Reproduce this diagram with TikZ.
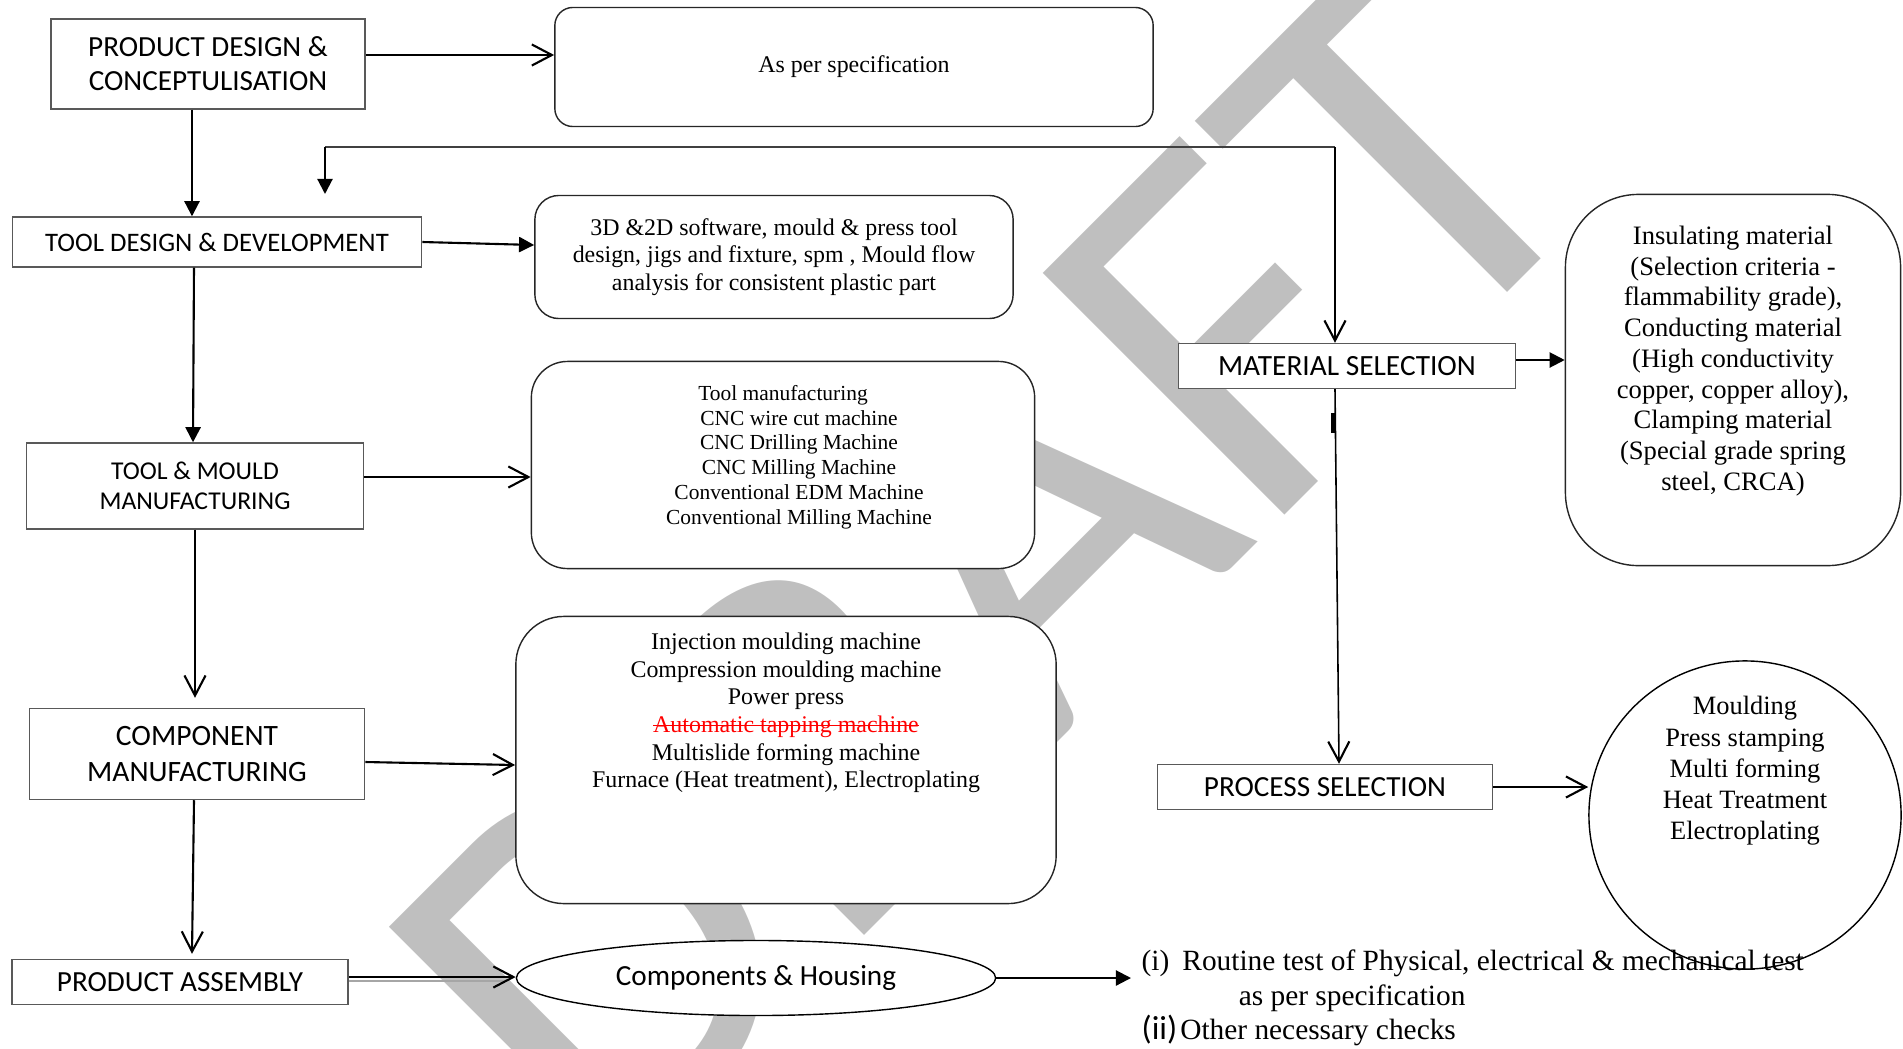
\documentclass[tikz,border=0pt]{standalone}
\usepackage{fontspec}
\setmainfont{Liberation Serif}
\setsansfont{Carlito}
\usetikzlibrary{arrows.meta,shapes.geometric}

\newsavebox\redstrikebox
\newcommand\redstrike[1]{\sbox\redstrikebox{#1}\rlap{\usebox\redstrikebox}\rule[0.27em]{\wd\redstrikebox}{0.06em}}

\tikzset{
  stage/.style={draw=black!65, line width=0.4pt, fill=white, align=center, inner sep=0pt,
    font=\sffamily\fontsize{8.3}{9.7}\selectfont},
  note/.style={draw=black!85, line width=0.4pt, fill=white, align=center, inner sep=0pt},
  notetext/.style={align=center, inner sep=0pt},
  openarrow/.style={line width=0.6pt, -{Straight Barb[length=5.7pt,width=6pt,line width=0.6pt]}},
  fillarrow/.style={line width=0.6pt, -{Triangle[length=4.3pt,width=4.3pt]}},
}

\begin{document}
\begin{tikzpicture}[x=0.01cm, y=-0.01cm]
\useasboundingbox (0,0) rectangle (1903,1048);

% watermark
\begin{scope}
\clip (0,0) rectangle (1903,1048);
\node[anchor=base west, rotate=45, inner sep=0pt, text=gray!50,
  font=\sffamily\fontsize{151.5}{153}\selectfont] (draft) at (605,1195) {DRAFT};
\end{scope}

% left column
\node[stage, minimum width=3.14cm, minimum height=0.90cm] (pdc) at (208,64) {PRODUCT DESIGN \&\\CONCEPTULISATION};
\node[stage, font=\sffamily\fontsize{7.6}{9}\selectfont, minimum width=4.09cm, minimum height=0.50cm] (tdd) at (217,242) {TOOL DESIGN \& DEVELOPMENT};
\node[stage, font=\sffamily\fontsize{7.3}{8.6}\selectfont, minimum width=3.37cm, minimum height=0.86cm] (tmm) at (195,486) {TOOL \& MOULD\\MANUFACTURING};
\node[stage, font=\sffamily\fontsize{8.4}{10}\selectfont, minimum width=3.35cm, minimum height=0.91cm] (cm) at (197,754) {COMPONENT\\MANUFACTURING};
\node[stage, minimum width=3.36cm, minimum height=0.45cm] (pa) at (180,982) {PRODUCT ASSEMBLY};

% middle column
\node[note, rounded corners=0.18cm, minimum width=5.98cm, minimum height=1.19cm,
  font=\fontsize{6.8}{7.8}\selectfont] (spec) at (854,67) {As per specification};
\node[note, rounded corners=0.24cm, minimum width=4.78cm, minimum height=1.23cm,
  font=\fontsize{6.8}{7.8}\selectfont] (soft) at (774,257) {3D \&2D software, mould \& press tool\\design, jigs and fixture, spm , Mould flow\\analysis for consistent plastic part};
\node[note, rounded corners=0.36cm, minimum width=5.03cm, minimum height=2.07cm] (tool) at (783,465) {};
\node[notetext, font=\fontsize{6.1}{7.05}\selectfont] (tooltext) at (799,457) {Tool manufacturing\hspace*{0.32cm}\\CNC wire cut machine\\CNC Drilling Machine\\CNC Milling Machine\\Conventional EDM Machine\\Conventional Milling Machine};
\node[note, rounded corners=0.48cm, minimum width=5.40cm, minimum height=2.87cm] (inj) at (786,760) {};
\node[notetext, font=\fontsize{6.8}{7.85}\selectfont] (injtext) at (786,713) {Injection moulding machine\\Compression moulding machine\\Power press\\\textcolor{red}{\redstrike{Automatic tapping machine}}\\Multislide forming machine\\Furnace (Heat treatment), Electroplating};
\node[ellipse, draw=black, line width=0.4pt, fill=white, minimum width=4.79cm, minimum height=0.75cm, inner sep=0pt,
  font=\sffamily\fontsize{8.3}{9.7}\selectfont] (comp) at (756,978) {Components \& Housing};

% right side
\node[stage, font=\sffamily\fontsize{8.35}{9.7}\selectfont, minimum width=3.37cm, minimum height=0.45cm] (ms) at (1347,366) {MATERIAL SELECTION};
\node[note, rounded corners=0.73cm, minimum width=3.35cm, minimum height=3.71cm] (ins) at (1733,380) {};
\node[notetext, font=\fontsize{7.56}{8.74}\selectfont] (instext) at (1733,361) {Insulating material\\(Selection criteria -\\flammability grade),\\Conducting material\\(High conductivity\\copper, copper alloy),\\Clamping material\\(Special grade spring\\steel, CRCA)};
\node[stage, minimum width=3.35cm, minimum height=0.45cm] (ps) at (1325,787) {PROCESS SELECTION};
\node[ellipse, draw=black, line width=0.4pt, fill=white, minimum width=3.12cm, minimum height=3.08cm, inner sep=0pt] (proc) at (1745,815) {};
\node[notetext, font=\fontsize{7.52}{8.9}\selectfont] (proctext) at (1745,771) {Moulding\\Press stamping\\Multi forming\\Heat Treatment\\Electroplating};
\node[anchor=west, align=left, inner sep=0pt, font=\fontsize{8.35}{9.8}\selectfont] (tests) at (1141,998) {(i)\hspace{0.13cm}Routine test of Physical, electrical \& mechanical test\\\hspace*{0.97cm}as per specification\\{\sffamily\fontsize{9.5}{9.8}\selectfont(ii)}\hspace{0.03cm}Other necessary checks};

% feedback line
\coordinate (fbr) at (1335,147);
\coordinate (fbl) at (325,147);
\coordinate (fbend) at (325,194);
\draw[line width=0.4pt, black!75] (fbr) -- (fbl);
\draw[fillarrow] (fbl) -- (fbend);
\draw[openarrow, line width=0.45pt] (fbr) -- (fbr |- ms.north);

% connectors
\draw[openarrow] ([yshift=0.09cm]pdc.east) -- ([yshift=0.09cm]pdc.east -| spec.west);
\draw[fillarrow] ([xshift=-0.16cm]pdc.south) -- ([xshift=-0.16cm]pdc.south |- tdd.north);
\draw[fillarrow] (tdd.east) -- ([yshift=0.12cm]soft.west);
\draw[fillarrow] ([xshift=-0.23cm]tdd.south) -- ([xshift=-0.02cm]tmm.north);
\draw[openarrow] ([yshift=0.09cm]tmm.east) -- ([yshift=0.09cm]tmm.east -| tool.west);
\draw[openarrow] (tmm.south) -- ([yshift=0.1cm]tmm.south |- cm.north);
\draw[openarrow] ([yshift=-0.08cm]cm.east) -- ([yshift=-0.05cm]inj.west);
\draw[openarrow] ([xshift=-0.03cm]cm.south) -- ([xshift=0.12cm,yshift=0.05cm]pa.north);
\draw[gray!70, line width=0.6pt] ([yshift=0.01cm]pa.east) -- ([xshift=-0.1cm,yshift=0.01cm]pa.east -| comp.west);
\draw[openarrow, line width=0.65pt] ([yshift=0.05cm]pa.east) -- ([yshift=0.05cm]pa.east -| comp.west);
\draw[fillarrow] (comp.east) -- ([xshift=-0.1cm]comp.east -| tests.west);
\draw[fillarrow] ([yshift=0.06cm]ms.east) -- ([yshift=0.06cm]ms.east -| ins.west);
\draw[openarrow, line width=0.45pt] ([xshift=-0.12cm]ms.south) -- ([xshift=0.14cm]ps.north);
\draw[line width=0.9pt] (1333,413) -- (1333,433);
\draw[openarrow] (ps.east) -- (ps.east -| proc.west);
\end{tikzpicture}
\end{document}
